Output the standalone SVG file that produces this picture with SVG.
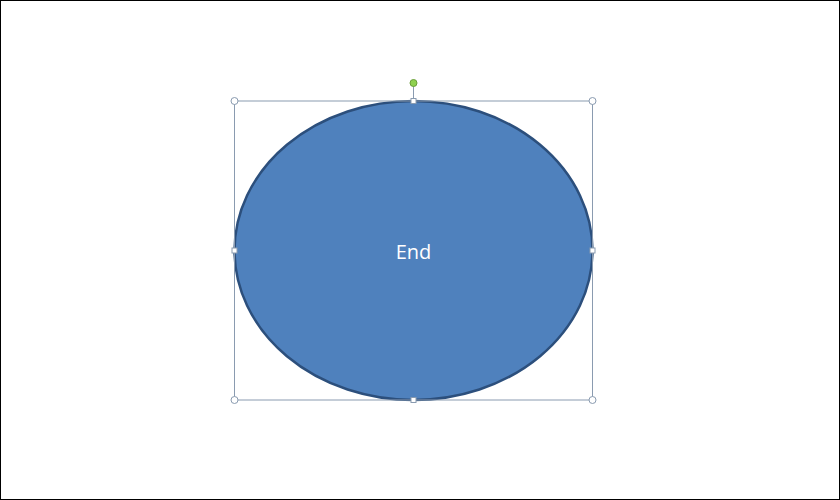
<svg xmlns="http://www.w3.org/2000/svg" width="840" height="500" viewBox="0 0 840 500">
<style>
.h{fill:#ffffff;stroke:#8a9bb0;stroke-width:1}
.sel{fill:none;stroke:#8a9bb0;stroke-width:1}
.lbl{font-family:"Open Sans","Liberation Sans",Arial,sans-serif;font-size:20px;fill:#ffffff;text-anchor:middle}
</style>
<rect x="0.5" y="0.5" width="839" height="499" fill="#ffffff" stroke="#000000" stroke-width="1"/>
<g id="end">
<ellipse cx="413.5" cy="250.5" rx="179" ry="149.5" fill="#4f81bd" stroke="#2c4f7c" stroke-width="2.5"/>
<text class="lbl" x="413.5" y="259">End</text>
</g>
<g id="selection">
<rect class="sel" x="234.5" y="101" width="358" height="299"/>
<line x1="413.5" y1="83" x2="413.5" y2="101" stroke="#8a9bb0" stroke-width="1"/>
<circle cx="413.5" cy="83" r="3.5" fill="#8fd14f" stroke="#6a9e3a" stroke-width="1"/>
<circle class="h" cx="234.5" cy="101" r="3.5"/>
<circle class="h" cx="592.5" cy="101" r="3.5"/>
<circle class="h" cx="234.5" cy="400" r="3.5"/>
<circle class="h" cx="592.5" cy="400" r="3.5"/>
<rect class="h" x="411" y="98.5" width="5" height="5"/>
<rect class="h" x="411" y="397.5" width="5" height="5"/>
<rect class="h" x="232" y="248" width="5" height="5"/>
<rect class="h" x="590" y="248" width="5" height="5"/>
</g>
<g id="connectors"/>
</svg>
